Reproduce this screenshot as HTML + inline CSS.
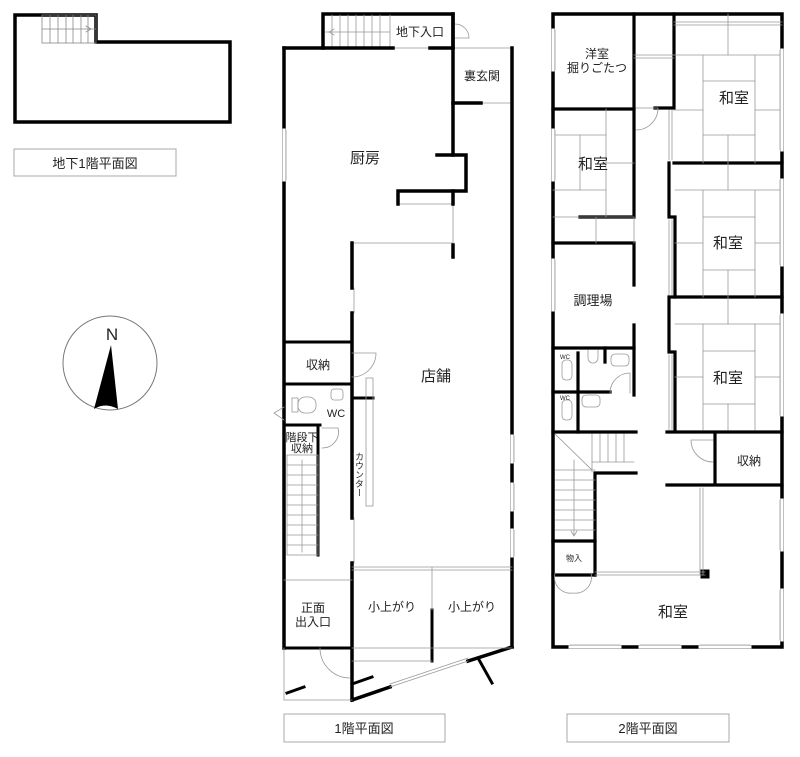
<!DOCTYPE html>
<html><head><meta charset="utf-8">
<style>
html,body{margin:0;padding:0;background:#fff;}
svg{display:block;}
text{font-family:"Liberation Sans","Noto Sans CJK JP",sans-serif;fill:#222;}
</style></head>
<body>
<svg width="800" height="757" viewBox="0 0 800 757" xmlns="http://www.w3.org/2000/svg">
<g fill="none" stroke="#000" stroke-linecap="square">

<!-- ===== Basement ===== -->
<path d="M15,122 L15,15 L96,15 L96,42 L230,42 L230,122 Z" stroke-width="3.5"/>
<g stroke="#888" stroke-width="0.8">
<rect x="42" y="15" width="54" height="28"/>
<line x1="42" y1="29" x2="96" y2="29"/>
<line x1="50" y1="15" x2="50" y2="43"/><line x1="58" y1="15" x2="58" y2="43"/><line x1="66" y1="15" x2="66" y2="43"/><line x1="73" y1="15" x2="73" y2="43"/><line x1="81" y1="15" x2="81" y2="43"/><line x1="88" y1="15" x2="88" y2="43"/>
<path d="M86,26 L91,29 L86,32"/>
</g>
<rect x="14" y="149" width="162" height="27" stroke="#aaa" stroke-width="1"/>

<!-- compass -->
<circle cx="110" cy="363" r="47" stroke="#777" stroke-width="1"/>
<path d="M111,345 L94,409 Q105,402 118,409 Z" fill="#000" stroke="none"/>

<!-- ===== 1F ===== -->
<!-- basement entrance box -->
<path d="M323,48 L323,14 L453,14 L453,48" stroke-width="3.5"/>
<g stroke="#999" stroke-width="0.8">
<line x1="325" y1="32" x2="390" y2="32"/>
<line x1="332" y1="15" x2="332" y2="47"/><line x1="340" y1="15" x2="340" y2="47"/><line x1="348" y1="15" x2="348" y2="47"/><line x1="356" y1="15" x2="356" y2="47"/><line x1="364" y1="15" x2="364" y2="47"/><line x1="372" y1="15" x2="372" y2="47"/><line x1="380" y1="15" x2="380" y2="47"/><line x1="390" y1="15" x2="390" y2="47"/>
<path d="M334,29 L329,32 L334,35"/>
<path d="M455,24 A14,14 0 0 1 469,38 L455,38"/>
<line x1="393" y1="48" x2="430" y2="48"/>
<line x1="453" y1="48" x2="512" y2="48"/>
<line x1="481" y1="103" x2="512" y2="103"/>
<line x1="398" y1="204" x2="453" y2="204"/>
<line x1="352" y1="243" x2="453" y2="243"/>
<line x1="453" y1="204" x2="453" y2="245"/>
<line x1="284" y1="130" x2="284" y2="180" stroke="#fff" stroke-width="3"/>
</g>
<!-- outer walls -->
<path d="M284,48 L284,648" stroke-width="3.5"/>
<path d="M284,48 L393,48 M430,48 L453,48" stroke-width="3.5"/>
<path d="M453,14 L453,155 L466,155 L466,191 L398,191 L398,204" stroke-width="3.5"/>
<path d="M437,155 L453,155" stroke-width="3.5"/>
<path d="M453,191 L453,204 M453,245 L453,257" stroke-width="3.5"/>
<path d="M453,103 L481,103" stroke-width="3.5"/>
<path d="M512,48 L512,647" stroke-width="3.5"/>
<!-- window segments on right wall -->
<g stroke="#fff" stroke-width="3"><line x1="512" y1="436" x2="512" y2="462"/><line x1="512" y1="484" x2="512" y2="510"/><line x1="512" y1="530" x2="512" y2="556"/><line x1="284" y1="130" x2="284" y2="180"/><line x1="352" y1="288" x2="352" y2="313"/><line x1="352" y1="518" x2="352" y2="563"/></g>
<g stroke="#999" stroke-width="0.8"><line x1="514" y1="436" x2="514" y2="462"/><line x1="514" y1="484" x2="514" y2="510"/><line x1="514" y1="530" x2="514" y2="556"/><line x1="286" y1="130" x2="286" y2="180"/><line x1="354" y1="288" x2="354" y2="313"/><line x1="354" y1="518" x2="354" y2="563"/></g>
<path d="M352,243 L352,288 M352,313 L352,518 M352,563 L352,700" stroke-width="3.5"/>
<path d="M284,342 L352,342 M284,384 L352,384 M284,425 L320,425" stroke-width="3"/>
<path d="M318,425 L318,555" stroke-width="3"/>
<path d="M352,398 L373,398" stroke-width="3"/>
<path d="M284,648 L352,648" stroke-width="3"/>
<path d="M352,700 L390,687 M468,661 L512,647" stroke-width="3.5"/>
<path d="M478,658 L492,683" stroke-width="3"/>
<path d="M432,610 L432,661" stroke-width="3"/>
<path d="M287,693 L304,687 M352,684 L372,677" stroke-width="3"/>
<g stroke="#999" stroke-width="0.8">
<line x1="390" y1="687" x2="468" y2="661"/><line x1="390" y1="684" x2="468" y2="658"/>
<line x1="352" y1="567" x2="512" y2="567"/><line x1="352" y1="570" x2="512" y2="570"/>
<line x1="432" y1="567" x2="432" y2="610"/>
<line x1="352" y1="661" x2="432" y2="661"/><line x1="352" y1="648" x2="512" y2="648"/>
<line x1="284" y1="580" x2="352" y2="580"/>
<line x1="284" y1="648" x2="284" y2="700"/><line x1="284" y1="700" x2="352" y2="700"/>
<path d="M320,648 A30,30 0 0 0 350,678"/>
<rect x="366" y="378" width="7" height="128"/>
<path d="M352,353 L376,353 A24,24 0 0 1 352,377"/>
<path d="M322,428 L338,428 A16,16 0 0 1 322,448"/>
<rect x="292" y="398" width="6" height="14"/><rect x="298" y="397" width="18" height="16" rx="7"/>
<rect x="331" y="389" width="12" height="11" rx="3"/>
<path d="M284,407 L274,413 L284,420"/>
<rect x="287" y="455" width="31" height="100"/>
<line x1="287" y1="465" x2="318" y2="465"/><line x1="287" y1="475" x2="318" y2="475"/><line x1="287" y1="485" x2="318" y2="485"/><line x1="287" y1="495" x2="318" y2="495"/><line x1="287" y1="505" x2="318" y2="505"/><line x1="287" y1="515" x2="318" y2="515"/><line x1="287" y1="525" x2="318" y2="525"/><line x1="287" y1="535" x2="318" y2="535"/><line x1="287" y1="545" x2="318" y2="545"/>
<line x1="302" y1="460" x2="302" y2="552"/>
</g>
<rect x="284" y="714" width="161" height="28" stroke="#aaa" stroke-width="1"/>

<!-- ===== 2F ===== -->
<rect x="553" y="14" width="229" height="633" stroke-width="3.5"/>
<g stroke-width="3.2">
<path d="M553,109 L634,109 M634,14 L634,109 M655,108 L674,108 M674,14 L674,108"/>
<path d="M634,109 L634,217 L580,217"/>
<path d="M553,243 L634,243 L634,285 M634,325 L634,395"/>
<path d="M674,163 L782,163 M669,163 L669,217 L675,217 M675,217 L675,297"/>
<path d="M669,297 L782,297 M669,297 L669,352 L675,352 M675,352 L675,430"/>
<path d="M667,432 L782,432 M715,432 L715,485 M667,485 L782,485"/>
<path d="M553,348 L634,348 M553,392 L610,392 M553,432 L636,432"/>
<path d="M595,473 L636,473 M595,473 L595,575"/>
<path d="M553,541 L595,541 M553,575 L595,575"/>
<path d="M578,353 L578,432 M605,348 L605,362"/>
</g>
<rect x="701" y="570" width="8" height="8" fill="#000"/>
<g stroke="#999" stroke-width="0.8">
<line x1="595" y1="575" x2="705" y2="575"/><line x1="595" y1="572" x2="705" y2="572"/>
<line x1="700" y1="488" x2="700" y2="575"/><line x1="703" y1="488" x2="703" y2="575"/>
<line x1="634" y1="217" x2="634" y2="243"/><line x1="553" y1="217" x2="634" y2="217"/>
<line x1="596" y1="217" x2="596" y2="243"/>
<line x1="634" y1="55" x2="674" y2="55"/><line x1="634" y1="58" x2="674" y2="58"/>
<line x1="674" y1="22" x2="782" y2="22"/><line x1="674" y1="25" x2="782" y2="25"/>
<line x1="669" y1="110" x2="669" y2="160"/><line x1="672" y1="110" x2="672" y2="160"/>
<line x1="669" y1="220" x2="669" y2="295"/><line x1="672" y1="220" x2="672" y2="295"/>
<line x1="669" y1="355" x2="669" y2="430"/><line x1="672" y1="355" x2="672" y2="430"/>
<path d="M636,108 L658,108 A22,22 0 0 1 636,130"/>
<path d="M713,440 L691,440 A22,22 0 0 0 713,462"/>
<path d="M610,393 A20,20 0 0 1 630,373 L630,393"/>
<path d="M555,573 A16,16 0 0 0 573,593 M591,573 A16,16 0 0 1 573,593"/>
<!-- tatami -->
<line x1="674" y1="55" x2="782" y2="55"/><line x1="703" y1="55" x2="703" y2="163"/><line x1="755" y1="55" x2="755" y2="163"/><line x1="703" y1="81" x2="755" y2="81"/><line x1="703" y1="135" x2="755" y2="135"/><line x1="728" y1="14" x2="728" y2="55"/><line x1="728" y1="135" x2="728" y2="163"/><line x1="674" y1="110" x2="703" y2="110"/><line x1="755" y1="110" x2="782" y2="110"/>
<line x1="675" y1="190" x2="782" y2="190"/><line x1="703" y1="190" x2="703" y2="297"/><line x1="755" y1="190" x2="755" y2="297"/><line x1="703" y1="217" x2="755" y2="217"/><line x1="703" y1="270" x2="755" y2="270"/><line x1="728" y1="163" x2="728" y2="190"/><line x1="728" y1="270" x2="728" y2="297"/><line x1="675" y1="243" x2="703" y2="243"/><line x1="755" y1="243" x2="782" y2="243"/>
<line x1="675" y1="324" x2="782" y2="324"/><line x1="703" y1="324" x2="703" y2="430"/><line x1="755" y1="324" x2="755" y2="430"/><line x1="703" y1="351" x2="755" y2="351"/><line x1="703" y1="404" x2="755" y2="404"/><line x1="728" y1="297" x2="728" y2="324"/><line x1="728" y1="404" x2="728" y2="430"/><line x1="675" y1="377" x2="703" y2="377"/><line x1="755" y1="377" x2="782" y2="377"/>
<line x1="553" y1="135" x2="606" y2="135"/><line x1="606" y1="109" x2="606" y2="217"/><line x1="580" y1="135" x2="580" y2="190"/><line x1="553" y1="190" x2="606" y2="190"/><line x1="606" y1="163" x2="634" y2="163"/>
<!-- stairs -->
<line x1="555" y1="470" x2="595" y2="470"/>
<line x1="555" y1="480" x2="595" y2="480"/><line x1="555" y1="490" x2="595" y2="490"/><line x1="555" y1="500" x2="595" y2="500"/><line x1="555" y1="510" x2="595" y2="510"/><line x1="555" y1="520" x2="595" y2="520"/><line x1="555" y1="530" x2="595" y2="530"/>
<line x1="592" y1="434" x2="592" y2="472"/><line x1="600" y1="434" x2="600" y2="462"/><line x1="608" y1="434" x2="608" y2="462"/><line x1="616" y1="434" x2="616" y2="462"/><line x1="624" y1="434" x2="624" y2="462"/><line x1="592" y1="462" x2="634" y2="462"/>
<line x1="555" y1="434" x2="592" y2="470"/>
<line x1="574" y1="460" x2="574" y2="535"/><path d="M571,531 L574,536 L577,531"/>
<rect x="562" y="360" width="10" height="20" rx="4"/><rect x="562" y="400" width="10" height="20" rx="4"/>
<rect x="611" y="354" width="18" height="12" rx="4"/><rect x="582" y="395" width="18" height="12" rx="4"/>
<path d="M588,350 L588,358 A5,5 0 0 0 598,358 L598,350"/>
</g>
<g stroke="#fff" stroke-width="3"><line x1="553" y1="30" x2="553" y2="70"/><line x1="553" y1="130" x2="553" y2="180"/><line x1="553" y1="260" x2="553" y2="310"/><line x1="782" y1="50" x2="782" y2="150"/><line x1="782" y1="180" x2="782" y2="265"/><line x1="782" y1="315" x2="782" y2="415"/><line x1="782" y1="500" x2="782" y2="550"/><line x1="782" y1="590" x2="782" y2="640"/><line x1="570" y1="647" x2="620" y2="647"/><line x1="640" y1="647" x2="680" y2="647"/><line x1="700" y1="647" x2="750" y2="647"/></g>
<g stroke="#999" stroke-width="0.8"><line x1="555" y1="30" x2="555" y2="70"/><line x1="555" y1="130" x2="555" y2="180"/><line x1="555" y1="260" x2="555" y2="310"/><line x1="780" y1="50" x2="780" y2="150"/><line x1="780" y1="180" x2="780" y2="265"/><line x1="780" y1="315" x2="780" y2="415"/><line x1="780" y1="500" x2="780" y2="550"/><line x1="780" y1="590" x2="780" y2="640"/><line x1="570" y1="645" x2="620" y2="645"/><line x1="640" y1="645" x2="680" y2="645"/><line x1="700" y1="645" x2="750" y2="645"/></g>
<rect x="567" y="714" width="162" height="28" stroke="#aaa" stroke-width="1"/>
</g>

<!-- ===== text ===== -->
<text x="95" y="168" font-size="13" text-anchor="middle">地下1階平面図</text>
<text x="112" y="340" font-size="17" text-anchor="middle" font-family="Liberation Serif,serif">N</text>
<text x="365" y="163" font-size="15" text-anchor="middle">厨房</text>
<text x="420" y="36" font-size="12" text-anchor="middle">地下入口</text>
<text x="482" y="80" font-size="12" text-anchor="middle">裏玄関</text>
<text x="318" y="369" font-size="12" text-anchor="middle">収納</text>
<text x="436" y="381" font-size="15" text-anchor="middle">店舗</text>
<text x="336" y="417" font-size="11" text-anchor="middle">WC</text>
<text x="302" y="441" font-size="11" text-anchor="middle">階段下</text>
<text x="302" y="452" font-size="11" text-anchor="middle">収納</text>
<text x="359" y="452" font-size="9" writing-mode="tb">カウンター</text>
<text x="313" y="612" font-size="12" text-anchor="middle">正面</text>
<text x="313" y="626" font-size="12" text-anchor="middle">出入口</text>
<text x="392" y="611" font-size="12" text-anchor="middle">小上がり</text>
<text x="472" y="611" font-size="12" text-anchor="middle">小上がり</text>
<text x="364" y="733" font-size="13" text-anchor="middle">1階平面図</text>
<text x="597" y="58" font-size="12" text-anchor="middle">洋室</text>
<text x="597" y="72" font-size="12" text-anchor="middle">掘りごたつ</text>
<text x="734" y="103" font-size="15" text-anchor="middle">和室</text>
<text x="593" y="169" font-size="15" text-anchor="middle">和室</text>
<text x="728" y="248" font-size="15" text-anchor="middle">和室</text>
<text x="593" y="305" font-size="13" text-anchor="middle">調理場</text>
<text x="728" y="383" font-size="15" text-anchor="middle">和室</text>
<text x="749" y="465" font-size="12" text-anchor="middle">収納</text>
<text x="574" y="561" font-size="8" text-anchor="middle">物入</text>
<text x="673" y="617" font-size="15" text-anchor="middle">和室</text>
<text x="560" y="359" font-size="6">WC</text>
<text x="560" y="400" font-size="6">WC</text>
<text x="648" y="733" font-size="13" text-anchor="middle">2階平面図</text>
</svg>
</body></html>
